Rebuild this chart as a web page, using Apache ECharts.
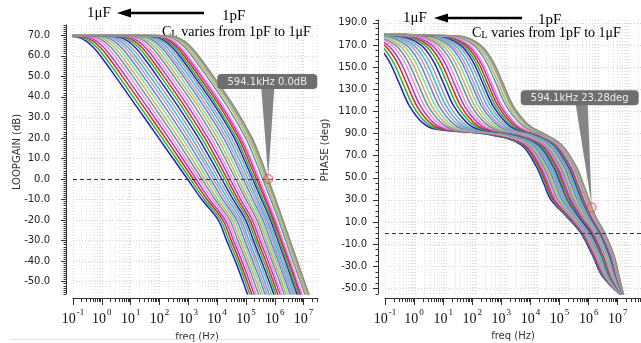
<!DOCTYPE html>
<html><head><meta charset="utf-8">
<script src="https://cdn.jsdelivr.net/npm/echarts@6/dist/echarts.min.js"></script>
<style>html,body{margin:0;padding:0;background:#fff}#c{width:641px;height:343px}</style>
</head><body><div id="c"></div>
<script>
// ---- data (x = log10 of frequency in Hz), one row per load capacitance, 1uF first ----
const gainLevels = [70, 69.9, 69, 67, 64, 60, 50, 35, 20, 10, 0, -10, -20, -30, -40, -50, -60];
const gainLogF = [
[-2,-1.48,-0.82,-0.53,-0.29,-0.05,0.47,1.22,1.97,2.47,2.97,3.47,4.04,4.33,4.63,4.90,5.15],
[-2,-1.36,-0.70,-0.41,-0.17,0.07,0.59,1.34,2.09,2.58,3.07,3.56,4.12,4.41,4.71,4.98,5.23],
[-2,-1.24,-0.58,-0.29,-0.05,0.19,0.71,1.46,2.20,2.69,3.17,3.65,4.20,4.49,4.78,5.05,5.30],
[-2,-1.12,-0.46,-0.17,0.07,0.31,0.83,1.58,2.32,2.80,3.27,3.74,4.28,4.57,4.86,5.13,5.38],
[-2,-0.99,-0.33,-0.04,0.20,0.44,0.96,1.70,2.43,2.90,3.37,3.84,4.36,4.64,4.94,5.20,5.45],
[-2,-0.87,-0.21,0.08,0.32,0.56,1.08,1.82,2.55,3.01,3.47,3.93,4.44,4.72,5.01,5.28,5.53],
[-2,-0.75,-0.09,0.20,0.44,0.68,1.20,1.94,2.66,3.12,3.57,4.02,4.52,4.80,5.09,5.36,5.61],
[-2,-0.63,0.03,0.32,0.56,0.80,1.32,2.07,2.78,3.23,3.67,4.11,4.60,4.88,5.17,5.43,5.68],
[-2,-0.51,0.15,0.44,0.68,0.92,1.44,2.19,2.90,3.34,3.77,4.20,4.68,4.96,5.24,5.51,5.76],
[-2,-0.39,0.27,0.56,0.80,1.04,1.56,2.31,3.01,3.45,3.87,4.29,4.76,5.04,5.32,5.58,5.84],
[-2,-0.28,0.38,0.67,0.91,1.15,1.67,2.42,3.12,3.54,3.96,4.38,4.83,5.11,5.39,5.65,5.90],
[-2,-0.16,0.50,0.79,1.03,1.27,1.79,2.54,3.23,3.65,4.06,4.47,4.91,5.19,5.47,5.73,5.98],
[-2,-0.03,0.63,0.92,1.16,1.40,1.92,2.66,3.35,3.76,4.16,4.56,4.99,5.26,5.54,5.81,6.06],
[-2,0.09,0.75,1.04,1.28,1.52,2.04,2.78,3.46,3.87,4.26,4.65,5.07,5.34,5.62,5.88,6.13],
[-2,0.20,0.86,1.15,1.39,1.63,2.15,2.89,3.57,3.97,4.35,4.73,5.14,5.41,5.69,5.95,6.20],
[-2,0.32,0.98,1.27,1.51,1.75,2.27,3.01,3.68,4.08,4.45,4.82,5.22,5.49,5.77,6.03,6.28],
[-2,0.43,1.09,1.38,1.62,1.86,2.38,3.12,3.79,4.17,4.54,4.91,5.30,5.56,5.84,6.09,6.34],
[-2,0.55,1.21,1.50,1.74,1.98,2.50,3.24,3.90,4.28,4.64,5.00,5.38,5.64,5.91,6.17,6.42],
[-2,0.66,1.32,1.61,1.85,2.09,2.61,3.35,4.01,4.38,4.73,5.08,5.45,5.71,5.98,6.24,6.49],
[-2,0.77,1.43,1.72,1.96,2.20,2.72,3.45,4.11,4.48,4.82,5.16,5.52,5.78,6.05,6.31,6.56],
[-2,0.88,1.54,1.83,2.07,2.31,2.83,3.56,4.22,4.58,4.91,5.24,5.59,5.85,6.12,6.38,6.63],
[-2,0.97,1.63,1.92,2.16,2.40,2.92,3.66,4.31,4.66,4.99,5.32,5.66,5.92,6.18,6.44,6.69],
[-2,1.07,1.73,2.02,2.26,2.50,3.02,3.76,4.40,4.75,5.07,5.39,5.72,5.98,6.24,6.50,6.75],
[-2,1.17,1.83,2.12,2.36,2.60,3.12,3.85,4.49,4.84,5.15,5.46,5.78,6.04,6.30,6.56,6.81],
[-2,1.26,1.92,2.21,2.45,2.69,3.21,3.95,4.59,4.92,5.23,5.54,5.85,6.11,6.37,6.62,6.87],
[-2,1.34,2.00,2.29,2.53,2.77,3.29,4.02,4.66,4.99,5.29,5.59,5.90,6.15,6.41,6.66,6.92],
[-2,1.42,2.08,2.37,2.61,2.85,3.37,4.11,4.74,5.06,5.36,5.66,5.95,6.21,6.47,6.72,6.97],
[-2,1.50,2.16,2.45,2.69,2.93,3.45,4.18,4.81,5.13,5.42,5.71,6.00,6.26,6.51,6.76,7.01],
[-2,1.56,2.22,2.51,2.75,2.99,3.51,4.24,4.86,5.18,5.47,5.76,6.04,6.29,6.55,6.80,7.05],
[-2,1.69,2.35,2.64,2.88,3.12,3.64,4.37,4.99,5.30,5.58,5.86,6.13,6.38,6.63,6.89,7.14],
[-2,1.77,2.43,2.72,2.96,3.20,3.72,4.46,5.07,5.38,5.65,5.92,6.18,6.44,6.69,6.94,7.19],
[-2,1.84,2.50,2.79,3.03,3.27,3.79,4.52,5.13,5.43,5.70,5.97,6.22,6.48,6.73,6.98,7.23],
[-2,1.87,2.53,2.82,3.06,3.30,3.82,4.55,5.16,5.47,5.73,6.00,6.25,6.50,6.75,7.00,7.25],
[-2,1.91,2.57,2.86,3.10,3.34,3.86,4.59,5.20,5.50,5.76,6.02,6.27,6.52,6.77,7.02,7.27],
[-2,1.92,2.58,2.87,3.11,3.35,3.87,4.60,5.21,5.51,5.77,6.03,6.28,6.53,6.78,7.03,7.28]
];
const phaseLevels = [180, 178, 170, 155, 135, 115, 100, 94, 89, 80, 60, 45, 30, 15, 0, -20, -40, -60];
const phaseLogF = [
[-3,-1.99,-1.28,-0.86,-0.53,-0.20,0.22,0.63,2.41,3.45,3.96,4.20,4.44,4.95,5.42,5.80,6.15,6.90],
[-3,-1.87,-1.16,-0.74,-0.41,-0.08,0.34,0.75,2.48,3.50,4.01,4.25,4.49,4.98,5.45,5.83,6.17,6.90],
[-3,-1.75,-1.04,-0.62,-0.29,0.04,0.46,0.86,2.54,3.54,4.05,4.29,4.52,5.02,5.48,5.85,6.19,6.90],
[-3,-1.63,-0.92,-0.50,-0.17,0.16,0.58,0.98,2.61,3.59,4.10,4.34,4.57,5.05,5.50,5.87,6.21,6.89],
[-3,-1.50,-0.79,-0.37,-0.04,0.29,0.71,1.10,2.68,3.64,4.15,4.38,4.62,5.09,5.53,5.90,6.23,6.89],
[-3,-1.38,-0.67,-0.25,0.08,0.41,0.83,1.22,2.75,3.69,4.20,4.43,4.67,5.12,5.56,5.93,6.24,6.89],
[-3,-1.26,-0.55,-0.13,0.20,0.53,0.95,1.33,2.81,3.74,4.25,4.48,4.71,5.15,5.59,5.95,6.26,6.89],
[-3,-1.14,-0.43,-0.01,0.32,0.65,1.07,1.45,2.87,3.78,4.29,4.52,4.75,5.19,5.62,5.98,6.28,6.89],
[-3,-1.02,-0.31,0.11,0.44,0.77,1.19,1.57,2.94,3.83,4.33,4.57,4.80,5.22,5.64,6.00,6.30,6.89],
[-3,-0.90,-0.19,0.23,0.56,0.89,1.31,1.68,3.01,3.88,4.38,4.62,4.84,5.25,5.67,6.02,6.32,6.88],
[-3,-0.79,-0.08,0.34,0.67,1.00,1.42,1.79,3.07,3.92,4.42,4.66,4.88,5.29,5.70,6.05,6.34,6.88],
[-3,-0.67,0.04,0.46,0.79,1.12,1.54,1.90,3.14,3.97,4.47,4.70,4.93,5.32,5.72,6.07,6.36,6.88],
[-3,-0.54,0.17,0.59,0.92,1.25,1.67,2.03,3.21,4.02,4.52,4.75,4.98,5.35,5.75,6.10,6.38,6.88],
[-3,-0.42,0.29,0.71,1.04,1.37,1.79,2.15,3.26,4.06,4.56,4.79,5.01,5.39,5.78,6.12,6.39,6.88],
[-3,-0.31,0.40,0.82,1.15,1.48,1.90,2.25,3.33,4.11,4.61,4.84,5.06,5.42,5.80,6.15,6.41,6.88],
[-3,-0.19,0.52,0.94,1.27,1.60,2.02,2.37,3.39,4.15,4.65,4.88,5.10,5.45,5.83,6.17,6.43,6.87],
[-3,-0.08,0.63,1.05,1.38,1.71,2.13,2.47,3.46,4.20,4.70,4.93,5.15,5.48,5.86,6.19,6.45,6.87],
[-3,0.04,0.75,1.17,1.50,1.83,2.25,2.59,3.52,4.24,4.74,4.97,5.18,5.52,5.88,6.22,6.47,6.87],
[-3,0.15,0.86,1.28,1.61,1.94,2.36,2.70,3.58,4.29,4.79,5.02,5.23,5.55,5.91,6.24,6.48,6.87],
[-3,0.26,0.97,1.39,1.72,2.05,2.47,2.80,3.64,4.33,4.83,5.05,5.27,5.58,5.94,6.26,6.50,6.87],
[-3,0.37,1.08,1.50,1.83,2.16,2.58,2.91,3.70,4.37,4.87,5.09,5.31,5.61,5.96,6.29,6.52,6.87],
[-3,0.46,1.17,1.59,1.92,2.25,2.67,2.99,3.75,4.41,4.91,5.13,5.34,5.63,5.98,6.30,6.53,6.86],
[-3,0.56,1.27,1.69,2.02,2.35,2.77,3.09,3.81,4.45,4.95,5.17,5.38,5.66,6.01,6.33,6.55,6.86],
[-3,0.66,1.37,1.79,2.12,2.45,2.87,3.19,3.86,4.49,4.98,5.21,5.42,5.69,6.03,6.35,6.56,6.86],
[-3,0.75,1.46,1.88,2.21,2.54,2.96,3.27,3.91,4.52,5.01,5.24,5.45,5.72,6.05,6.36,6.58,6.86],
[-3,0.83,1.54,1.96,2.29,2.62,3.04,3.35,3.95,4.55,5.04,5.27,5.47,5.74,6.07,6.38,6.59,6.86],
[-3,0.91,1.62,2.04,2.37,2.70,3.12,3.43,4.00,4.59,5.08,5.31,5.51,5.76,6.09,6.40,6.60,6.86],
[-3,0.99,1.70,2.12,2.45,2.78,3.20,3.51,4.03,4.61,5.10,5.33,5.53,5.78,6.10,6.41,6.61,6.86],
[-3,1.05,1.76,2.18,2.51,2.84,3.26,3.56,4.07,4.64,5.13,5.35,5.56,5.80,6.12,6.43,6.62,6.86],
[-3,1.18,1.89,2.31,2.64,2.97,3.39,3.69,4.14,4.69,5.18,5.40,5.61,5.84,6.15,6.45,6.64,6.85],
[-3,1.26,1.97,2.39,2.72,3.05,3.47,3.77,4.19,4.72,5.21,5.43,5.63,5.86,6.17,6.47,6.66,6.85],
[-3,1.33,2.04,2.46,2.79,3.12,3.54,3.83,4.23,4.75,5.24,5.46,5.66,5.88,6.18,6.48,6.67,6.85],
[-3,1.36,2.07,2.49,2.82,3.15,3.57,3.86,4.24,4.76,5.25,5.47,5.67,5.89,6.19,6.49,6.67,6.85],
[-3,1.40,2.11,2.53,2.86,3.19,3.61,3.90,4.26,4.77,5.26,5.48,5.68,5.90,6.20,6.50,6.68,6.85],
[-3,1.41,2.12,2.54,2.87,3.20,3.62,3.91,4.27,4.78,5.27,5.49,5.69,5.90,6.20,6.50,6.68,6.85]
];
const decades = [-1, 0, 1, 2, 3, 4, 5, 6, 7];
const minorOffsets = [0.301, 0.477, 0.602, 0.699, 0.778, 0.845, 0.903, 0.954];
const gainTicks = [-50, -40, -30, -20, -10, 0, 10, 20, 30, 40, 50, 60, 70];
const phaseTicks = [-50, -30, -10, 10, 30, 50, 70, 90, 110, 130, 150, 170, 190];
const markerLogF = 5.774;
const markerGain = 0.0;
const markerPhase = 23.28;
const markerGainText = '594.1kHz 0.0dB';
const markerPhaseText = '594.1kHz 23.28deg';

// ---- styles ----
const palette = ['#2020d8','#20c020','#ee2020','#a040e0','#ff8cc8','#4f9fa8','#e0a070','#78e878','#6878ff','#c89898','#38b8e8','#a0a0a0'];
const tailColors = ['#9c9c9c','#c8a878','#8c8c8c'];
function colorOf(i) { const n = gainLogF.length; if (i >= n - tailColors.length) return tailColors[i - (n - tailColors.length)]; return palette[i % palette.length]; }

const minorTicks = [];
decades.forEach(d => minorOffsets.forEach(o => { if (d + o <= 7.8) minorTicks.push(d + o); }));
const allXTicks = decades.concat(minorTicks);

const chart = echarts.init(document.getElementById('c'), null, {renderer: 'canvas'});
const serif = 'Liberation Serif, Times New Roman, serif';
const sans = 'DejaVu Sans, sans-serif';

const xRich = {
  b: {fontFamily: serif, fontSize: 14, color: '#111', lineHeight: 18, verticalAlign: 'bottom'},
  s: {fontFamily: serif, fontSize: 9, color: '#111', lineHeight: 18, verticalAlign: 'top', padding: [0, 0, 0, 1]}
};
function xFmt(v) { return '{b|10}{s|' + (v < 0 ? '-' + (-v) : v) + '}'; }

function majorX(grid, min, max, showSplit) {
  return {type: 'value', gridIndex: grid, min: min, max: max, position: 'bottom', offset: 4,
    axisLine: {show: true, onZero: false, lineStyle: {color: '#333', width: 1}},
    axisTick: {show: true, customValues: decades, length: 7, lineStyle: {color: '#333'}},
    axisLabel: {show: true, customValues: decades, formatter: xFmt, rich: xRich, margin: 10},
    splitLine: {show: showSplit, lineStyle: {color: '#d4d4d4', type: [1, 2]}}};
}
function minorX(grid, min, max, showSplit) {
  return {type: 'value', gridIndex: grid, min: min, max: max, position: 'bottom', offset: 4,
    axisLine: {show: false, onZero: false},
    axisTick: {show: true, customValues: minorTicks, length: 4, lineStyle: {color: '#333'}},
    axisLabel: {show: false}, splitLine: {show: showSplit, lineStyle: {color: '#e6e6e6', type: [1, 2]}}};
}

const series = [];
gainLogF.forEach((row, i) => {
  series.push({type: 'line', xAxisIndex: 0, yAxisIndex: 0, data: gainLevels.map((L, k) => [row[k], L]),
    smooth: 0.35, showSymbol: false, silent: true, clip: true,
    lineStyle: {width: 1.5, color: colorOf(i)}, z: 2});
});
phaseLogF.forEach((row, i) => {
  series.push({type: 'line', xAxisIndex: 2, yAxisIndex: 2, data: phaseLevels.map((L, k) => [row[k], L]),
    smooth: 0.35, showSymbol: false, silent: true, clip: true,
    lineStyle: {width: 1.5, color: colorOf(i)}, z: 2});
});
const dashed = {silent: true, symbol: 'none', label: {show: false}, lineStyle: {type: [4, 3], color: '#333', width: 1}, data: [{yAxis: 0}]};
series.push({type: 'scatter', xAxisIndex: 0, yAxisIndex: 0, data: [[markerLogF, markerGain]], symbolSize: 9, z: 5,
  itemStyle: {color: 'rgba(255,140,140,0.35)', borderColor: '#e04848', borderWidth: 1}, markLine: dashed});
series.push({type: 'scatter', xAxisIndex: 2, yAxisIndex: 2, data: [[markerLogF, markerPhase]], symbolSize: 9, z: 5,
  itemStyle: {color: 'rgba(255,140,140,0.35)', borderColor: '#e04848', borderWidth: 1}, markLine: dashed});

function yMajor(grid, min, max, ticks, margin) {
  return {type: 'value', gridIndex: grid, min: min, max: max, position: 'left', offset: 7,
    axisLine: {show: true, onZero: false, lineStyle: {color: '#333'}},
    axisTick: {show: true, customValues: ticks, length: 5, lineStyle: {color: '#333'}},
    axisLabel: {show: true, customValues: ticks, margin: margin, fontFamily: sans, fontSize: 10, color: '#222',
      formatter: v => v.toFixed(1)},
    splitLine: {show: true, lineStyle: {color: '#d4d4d4', type: [1, 2]}}};
}
function yMinor(grid, min, max, step) {
  return {type: 'value', gridIndex: grid, min: min, max: max, interval: step, position: 'left', offset: 7,
    axisLine: {show: false, onZero: false}, axisTick: {show: true, length: 2.5, lineStyle: {color: '#333'}},
    axisLabel: {show: false}, splitLine: {show: false}};
}

chart.setOption({
  animation: false,
  backgroundColor: '#ffffff',
  grid: [
    {left: 73, top: 25, width: 245, height: 269},
    {left: 385, top: 20, width: 256, height: 274}
  ],
  xAxis: [
    majorX(0, -1, 7.5, true),
    minorX(0, -1, 7.5, true),
    {type: 'value', gridIndex: 1, min: -1, max: 7.39, position: 'bottom',
      axisLine: {show: false, onZero: false}, axisTick: {show: false, customValues: allXTicks}, axisLabel: {show: false},
      splitLine: {show: true, lineStyle: {color: '#dedede', type: [1, 2]}}},
    majorX(1, -1, 7.8, false),
    minorX(1, -1, 7.8, false)
  ],
  yAxis: [
    yMajor(0, -56, 75, gainTicks, 16),
    yMinor(0, -56, 75, 1),
    yMajor(1, -55, 192.5, phaseTicks, 11),
    yMinor(1, -55, 192.5, 5)
  ],
  series: series
});

// ---- annotations (positions derived from data via the chart's scales) ----
const pg = chart.convertToPixel({xAxisIndex: 0, yAxisIndex: 0}, [markerLogF, markerGain]);
const pp = chart.convertToPixel({xAxisIndex: 2, yAxisIndex: 2}, [markerLogF, markerPhase]);
function bubble(p, dxL, w, dyTop, h, triL, triR, text) {
  return [
    {type: 'polygon', z: 50, shape: {points: [[p[0] + triL, p[1] + dyTop + h - 1], [p[0] + triR, p[1] + dyTop + h - 1], [p[0], p[1] - 2]]}, style: {fill: '#858585'}},
    {type: 'rect', z: 51, shape: {x: p[0] + dxL, y: p[1] + dyTop, width: w, height: h, r: 4}, style: {fill: '#6e6e6e'}},
    {type: 'text', z: 52, x: p[0] + dxL + w / 2, y: p[1] + dyTop + h / 2 + 0.5,
      style: {text: text, fill: '#ececec', font: '10px ' + sans, textAlign: 'center', textVerticalAlign: 'middle'}}
  ];
}
function header(x0, y0, xArrowL, xArrowR, xpF, yOff, xCL, yCL) {
  return [
    {type: 'text', x: x0, y: y0, style: {text: '1μF', font: '15px ' + serif, fill: '#000', textAlign: 'left', textVerticalAlign: 'middle'}},
    {type: 'line', shape: {x1: xArrowL + 10, y1: y0, x2: xArrowR, y2: y0}, style: {stroke: '#000', lineWidth: 2.4}},
    {type: 'polygon', shape: {points: [[xArrowL, y0], [xArrowL + 14, y0 - 4.5], [xArrowL + 14, y0 + 4.5]]}, style: {fill: '#000'}},
    {type: 'text', x: xpF, y: y0 + yOff, style: {text: '1pF', font: '15px ' + serif, fill: '#000', textAlign: 'left', textVerticalAlign: 'middle'}},
    {type: 'text', x: xCL, y: yCL, style: {text: '{a|C}{b|L}{a| varies from 1pF to 1μF}', textVerticalAlign: 'middle', textAlign: 'left',
      rich: {a: {font: '14px ' + serif, fill: '#000', lineHeight: 16}, b: {font: '10.5px ' + serif, fill: '#000', lineHeight: 16, verticalAlign: 'bottom'}}}}
  ];
}
const graphics = []
  .concat(header(87, 13, 117, 204, 222, 3, 162, 32))
  .concat(header(403, 18, 434, 522, 538, 2, 472, 33))
  .concat(bubble(pg, -51, 100, -105, 15, -7, 6, markerGainText))
  .concat(bubble(pp, -71, 118, -117, 15, -16, -4, markerPhaseText))
  .concat([
    {type: 'text', x: 17, y: 152, rotation: Math.PI / 2, style: {text: 'LOOPGAIN (dB)', font: '10px ' + sans, fill: '#333', textAlign: 'center', textVerticalAlign: 'middle'}},
    {type: 'text', x: 325, y: 150, rotation: Math.PI / 2, style: {text: 'PHASE (deg)', font: '10px ' + sans, fill: '#333', textAlign: 'center', textVerticalAlign: 'middle'}},
    {type: 'text', x: 197, y: 337, style: {text: 'freq (Hz)', font: '10px ' + sans, fill: '#333', textAlign: 'center', textVerticalAlign: 'middle'}},
    {type: 'text', x: 513, y: 336, style: {text: 'freq (Hz)', font: '10px ' + sans, fill: '#333', textAlign: 'center', textVerticalAlign: 'middle'}},
    {type: 'line', shape: {x1: 10, y1: 339.5, x2: 320, y2: 339.5}, style: {stroke: '#eadede', lineWidth: 1}}
  ]);
chart.setOption({graphic: graphics});
</script></body></html>
